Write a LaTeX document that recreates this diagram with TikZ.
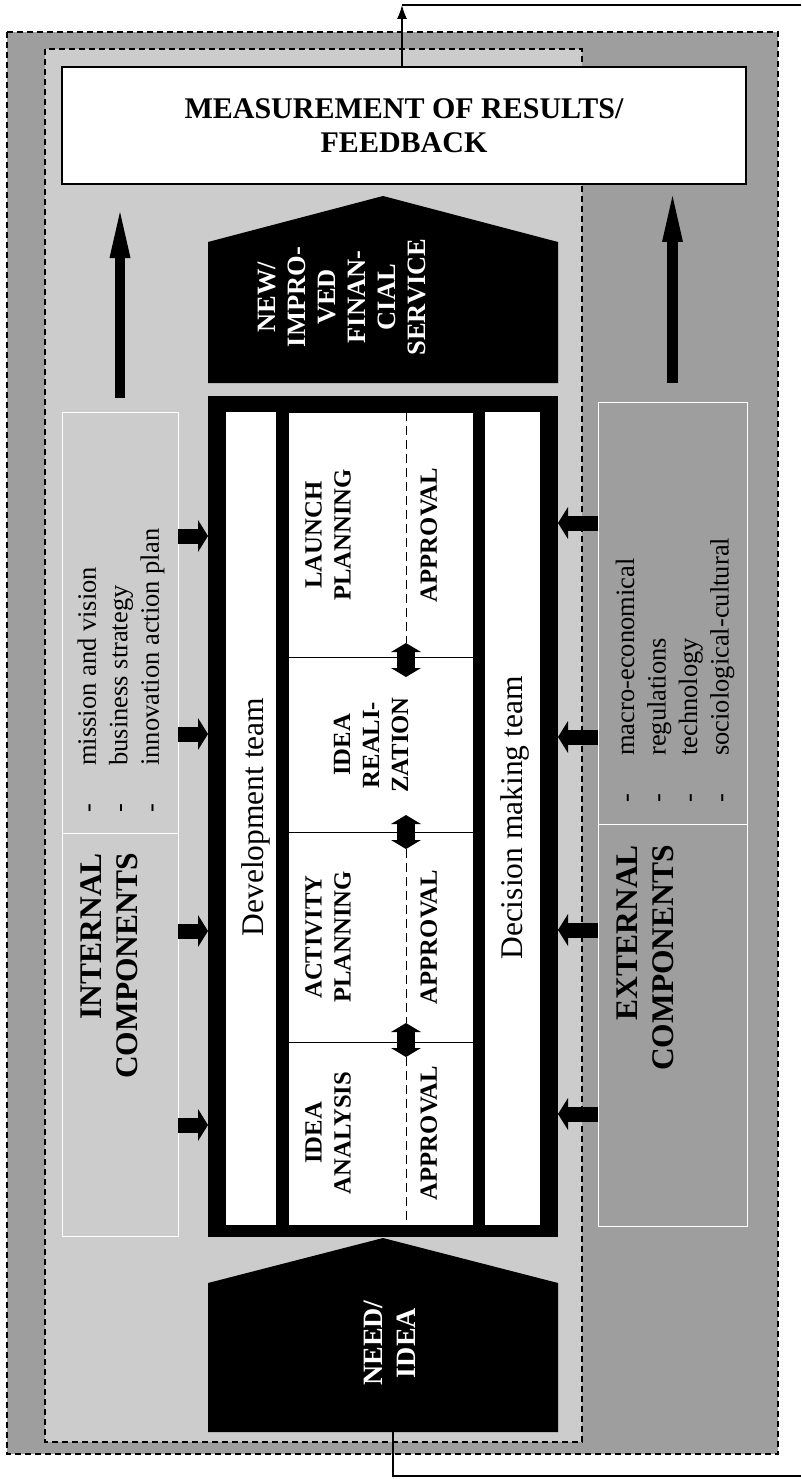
\documentclass[tikz,border=0pt]{standalone}
\usepackage{fontspec}
\setmainfont{Liberation Serif}
\usepackage{tikz}
\usepackage{xcolor}
\usetikzlibrary{arrows}
\usetikzlibrary{arrows.meta}

\definecolor{outergray}{gray}{0.62}
\definecolor{innergray}{gray}{0.80}

\begin{document}
\begin{tikzpicture}[x=1pt, y=-1pt, every node/.style={inner sep=0pt, outer sep=0pt},
    zone/.style={draw=black, line width=1.3pt, dash pattern=on 6pt off 4pt},
    compbox/.style={draw=white, line width=0.8pt},
    strip/.style={fill=white, anchor=north west, minimum height=813},
    stage/.style={fill=white, draw=black, line width=1pt, anchor=north west, minimum width=185},
    stagetxt/.style={rotate=90, align=center, font=\fontsize{24.7}{29}\selectfont\bfseries},
    teamtxt/.style={rotate=90, font=\fontsize{31.5}{36}\selectfont},
    titletxt/.style={rotate=90, anchor=east, align=right, font=\fontsize{31.5}{36}\selectfont\bfseries},
    listtxt/.style={rotate=90, anchor=west, font=\fontsize{26.5}{31.5}\selectfont},
    bigup/.style={line width=10.5pt, -{Triangle[length=46pt, width=21pt, line width=0pt]}},
    fatarrow/.style={line width=15pt, -{Triangle[length=10pt, width=32pt, line width=0pt]}},
    dblarrow/.style={line width=18pt, {Triangle[length=9pt, width=30pt, line width=0pt]}-{Triangle[length=9pt, width=30pt, line width=0pt]}},
    midline/.style={line width=1pt, dash pattern=on 9pt off 5pt}]

    \useasboundingbox (0,0) rectangle (801,1479);

    %===========================
    % Zones
    %===========================

    \draw[zone, fill=outergray] (7,32) rectangle (778,1454);
    \draw[zone, fill=innergray] (45,49) rectangle (582,1442);

    \node (meas) at (404,125.5) [draw=black, line width=1.5pt, fill=white, minimum width=684, minimum height=117,
        align=center, font=\fontsize{30}{34}\selectfont\bfseries] {MEASUREMENT OF RESULTS/\\FEEDBACK};

    %===========================
    % Components
    %===========================

    % Left Side
    \node (intbox) at (120,824) [compbox, minimum width=116, minimum height=824] {};
    \draw[white, line width=0.8pt] (intbox.west |- 0,833) -- (intbox.east |- 0,833);
    \node (intlist) at (121,812.5) [listtxt] {\begin{tabular}{@{}l@{\hspace{38pt}}l@{}}
        -&mission and vision\\-&business strategy\\-&innovation action plan\end{tabular}};
    \node (inttitle) at (109,853) [titletxt] {INTERNAL\\COMPONENTS};

    % Right Side
    \node (extbox) at (672.5,814) [compbox, minimum width=149, minimum height=824] {};
    \draw[white, line width=0.8pt] (extbox.west |- 0,824) -- (extbox.east |- 0,824);
    \node (extlist) at (675,802.5) [listtxt] {\begin{tabular}{@{}l@{\hspace{38pt}}l@{}}
        -&macro-economical\\-&regulations\\-&technology\\-&sociological-cultural\end{tabular}};
    \node (exttitle) at (645,845) [titletxt] {EXTERNAL\\COMPONENTS};

    \draw[bigup, shorten <=14pt, shorten >=28pt] (intbox.north) -- (intbox.north |- meas.south);
    \draw[bigup, shorten <=19pt, shorten >=12pt] (extbox.north) -- (extbox.north |- meas.south);

    %===========================
    % Service
    %===========================

    \fill (208,383) -- (208,242) -- (383,196) -- (558,242) -- (558,383) -- cycle;
    \node (newserv) at (342,297) [rotate=90, align=center, text=white,
        font=\fontsize{26.5}{30}\selectfont\bfseries] {NEW/\\IMPRO-\\VED\\FINAN-\\CIAL\\SERVICE};

    %===========================
    % Process
    %===========================

    \node (frame) at (208,396) [fill=black, anchor=north west, minimum width=350, minimum height=841] {};
    \node (devstrip) at (226,412) [strip, minimum width=50] {};
    \node (decstrip) at (485,412) [strip, minimum width=55] {};
    \node (devtxt) at (256,817) [teamtxt] {Development team};
    \node (dectxt) at (515,818) [teamtxt] {Decision making team};

    \node (launch) at (288,412) [stage, minimum height=245] {};
    \node (realize) at (288,657) [stage, minimum height=175] {};
    \node (activity) at (288,832) [stage, minimum height=210] {};
    \node (analysis) at (288,1042) [stage, minimum height=183] {};

    \node (launchtxt) at (328,535) [stagetxt] {LAUNCH\\PLANNING};
    \node (realtxt) at (371,745) [stagetxt] {IDEA\\REALI-\\ZATION};
    \node (acttxt) at (328,937) [stagetxt] {ACTIVITY\\PLANNING};
    \node (anatxt) at (328,1133) [stagetxt] {IDEA\\ANALYSIS};
    \foreach \s/\y in {launch/535, activity/937, analysis/1133}
        \node (appr-\s) at (429,\y) [stagetxt] {APPROVAL};

    \coordinate (mid) at (406,0);
    \foreach \y [count=\i] in {660,832,1040}
        \coordinate (da\i) at (406,\y);
    \draw[midline] (launch.north -| mid) -- ([yshift=17pt]da1);
    \draw[midline] ([yshift=-17pt]da2) -- ([yshift=17pt]da3);
    \draw[midline] ([yshift=-17pt]da3) -- (analysis.south -| mid);
    \foreach \i in {1,2,3}
        \draw[dblarrow] ([yshift=17pt]da\i) -- ([yshift=-17pt]da\i);

    % inputs
    \foreach \y in {536,734,931,1125}
        \draw[fatarrow] (intbox.east |- 0,\y) -- (frame.west |- 0,\y);
    \foreach \y in {523,737,930,1114}
        \draw[fatarrow] (extbox.west |- 0,\y) -- (frame.east |- 0,\y);

    %===========================
    % Need
    %===========================

    \fill (208,1432) -- (208,1283) -- (383,1238) -- (558,1283) -- (558,1432) -- cycle;
    \node (need) at (390,1343) [rotate=90, align=center, text=white,
        font=\fontsize{28}{33}\selectfont\bfseries] {NEED/\\IDEA};

    %===========================
    % Feedback loop
    %===========================

    \coordinate (needbot) at (393,1432);
    \coordinate (fbbot) at (801,1476);
    \coordinate (fbup) at (402,5);
    \coordinate (fbtop) at (801,5);
    \draw[line width=1.3pt] (needbot) |- (fbbot);
    \draw[line width=1.3pt, -{Latex[length=14pt, width=10pt]}] (fbup |- meas.north) -- (fbup);
    \draw[line width=1.3pt] (fbup) -- (fbtop);

\end{tikzpicture}
\end{document}
